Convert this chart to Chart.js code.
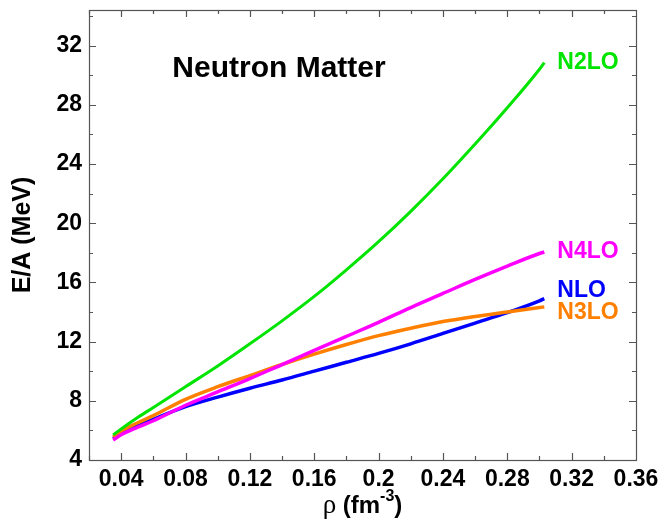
<!DOCTYPE html>
<html><head><meta charset="utf-8">
<script src="https://cdn.jsdelivr.net/npm/chart.js@4/dist/chart.umd.min.js"></script>
<style>html,body{margin:0;padding:0;background:#fff}canvas{display:block}</style>
</head><body>
<canvas id="c" width="659" height="527"></canvas>
<script>
// density grid (fm^-3)
const rho  = [0.035, 0.04, 0.05, 0.06, 0.08, 0.10, 0.12, 0.14, 0.16, 0.18, 0.20, 0.22, 0.24, 0.26, 0.28, 0.30, 0.303];
// E/A (MeV) for each order
const nlo  = [5.45, 5.8, 6.3, 6.75, 7.6, 8.25, 8.85, 9.4, 10.0, 10.6, 11.2, 11.85, 12.55, 13.25, 13.95, 14.75, 14.9];
const n2lo = [5.7, 6.1, 6.85, 7.55, 8.95, 10.35, 11.85, 13.4, 15.05, 16.85, 18.75, 20.8, 23.0, 25.35, 27.8, 30.4, 30.85];
const n3lo = [5.55, 5.95, 6.5, 7.0, 8.1, 8.95, 9.7, 10.45, 11.15, 11.8, 12.4, 12.9, 13.35, 13.7, 14.0, 14.3, 14.34];
const n4lo = [5.35, 5.7, 6.2, 6.65, 7.7, 8.6, 9.5, 10.45, 11.4, 12.35, 13.3, 14.3, 15.25, 16.2, 17.1, 17.95, 18.05];

const seriesNames = ["N4LO", "N2LO", "N3LO", "NLO"];
const xTicks = [0.04, 0.08, 0.12, 0.16, 0.20, 0.24, 0.28, 0.32, 0.36];
const xTickLabels = ["0.04", "0.08", "0.12", "0.16", "0.2", "0.24", "0.28", "0.32", "0.36"];
const yTicks = [4, 8, 12, 16, 20, 24, 28, 32];
const yTickLabels = ["4", "8", "12", "16", "20", "24", "28", "32"];
const plotTitle = "Neutron Matter";

const FONT = '"Liberation Sans", Arial, Helvetica, sans-serif';
const toPts = ys => rho.map((x, i) => ({x: x, y: ys[i]}));

const seriesValues = [n4lo, n2lo, n3lo, nlo];
const seriesColors = ["#ff00ff", "#00e400", "#ff8000", "#0000ff"];
const seriesWidths = [3.5, 3, 3.5, 3.5];
const labelDy = [0, 0, 6, -8];

const datasets = seriesNames.map((n, i) => ({
  label: n,
  data: toPts(seriesValues[i]),
  borderColor: seriesColors[i],
  backgroundColor: seriesColors[i],
  borderWidth: seriesWidths[i],
  pointRadius: 0,
  fill: false,
  cubicInterpolationMode: 'monotone'
}));

const framePlugin = {
  id: 'frame',
  afterDraw(chart) {
    const {ctx, chartArea: a, scales: {x, y}} = chart;
    ctx.save();
    ctx.strokeStyle = '#555';
    ctx.lineWidth = 1.2;
    ctx.strokeRect(a.left + 0.5, a.top + 0.5, a.right - a.left, a.bottom - a.top);
    ctx.beginPath();
    for (let k = 1; k <= 17; k++) {
      const v = 0.02 * k;
      const px = Math.round(x.getPixelForValue(v)) + 0.5;
      const major = (k % 2 === 0);
      const len = major ? 7 : 4;
      ctx.moveTo(px, a.bottom); ctx.lineTo(px, a.bottom - len);
      ctx.moveTo(px, a.top); ctx.lineTo(px, a.top + len);
    }
    for (let v = 4; v <= 34; v += 2) {
      const py = Math.round(y.getPixelForValue(v)) + 0.5;
      const major = (v % 4 === 0);
      const len = major ? 7 : 4;
      ctx.moveTo(a.left, py); ctx.lineTo(a.left + len, py);
      ctx.moveTo(a.right, py); ctx.lineTo(a.right - len, py);
    }
    ctx.stroke();

    // curve labels at curve ends
    ctx.font = 'bold 23px ' + FONT;
    ctx.textBaseline = 'middle';
    ctx.textAlign = 'left';
    chart.data.datasets.forEach((ds, i) => {
      const last = ds.data[ds.data.length - 1];
      const px = x.getPixelForValue(last.x) + 13;
      const py = y.getPixelForValue(last.y) + labelDy[i];
      ctx.fillStyle = ds.borderColor;
      ctx.fillText(ds.label, px, py);
    });

    // plot title
    ctx.fillStyle = '#000';
    ctx.font = 'bold 30px ' + FONT;
    ctx.textAlign = 'center';
    ctx.textBaseline = 'alphabetic';
    ctx.fillText(plotTitle, a.left + 190, a.top + 67);

    // x axis title with superscript
    const base = 513;
    const parts = [
      {t: 'ρ', f: '27px "Liberation Serif", "DejaVu Serif", serif', dy: 0},
      {t: ' (fm', f: 'bold 24px ' + FONT, dy: 0},
      {t: '-3', f: 'bold 16px ' + FONT, dy: -12},
      {t: ')', f: 'bold 24px ' + FONT, dy: 0}
    ];
    let total = 0;
    parts.forEach(p => { ctx.font = p.f; p.w = ctx.measureText(p.t).width; total += p.w; });
    let cx = (a.left + a.right) / 2 - total / 2;
    ctx.textAlign = 'left';
    parts.forEach(p => { ctx.font = p.f; ctx.fillText(p.t, cx, base + p.dy); cx += p.w; });
    ctx.restore();
  }
};

new Chart(document.getElementById('c'), {
  type: 'line',
  data: {datasets},
  options: {
    responsive: false,
    animation: false,
    layout: {padding: {top: 10, right: 23, left: 0, bottom: 0}},
    plugins: {legend: {display: false}, tooltip: {enabled: false}},
    scales: {
      x: {
        type: 'linear', min: 0.02, max: 0.36,
        afterBuildTicks: s => { s.ticks = xTicks.map(v => ({value: v})); },
        afterFit: s => { s.height = 67; s.paddingLeft = 0; s.paddingRight = 0; },
        grid: {display: false, drawTicks: false},
        border: {display: false},
        ticks: {
          autoSkip: false, maxRotation: 0, padding: 6, color: '#000',
          font: {family: FONT, size: 23, weight: 'bold'},
          callback: (v, i) => xTickLabels[i]
        },
        title: {display: false, text: 'ρ (fm⁻³)'}
      },
      y: {
        type: 'linear', min: 4, max: 34.4,
        afterBuildTicks: s => { s.ticks = yTicks.map(v => ({value: v})); },
        afterFit: s => { s.width = 89; s.paddingTop = 0; s.paddingBottom = 0; },
        grid: {display: false, drawTicks: false},
        border: {display: false},
        ticks: {
          autoSkip: false, padding: 7, color: '#000',
          font: {family: FONT, size: 23, weight: 'bold'},
          callback: (v, i) => yTickLabels[i]
        },
        title: {
          display: true, text: 'E/A (MeV)', color: '#000',
          font: {family: FONT, size: 25, weight: 'bold'},
          padding: {top: 8, bottom: 0}
        }
      }
    }
  },
  plugins: [framePlugin]
});
</script>
</body></html>
